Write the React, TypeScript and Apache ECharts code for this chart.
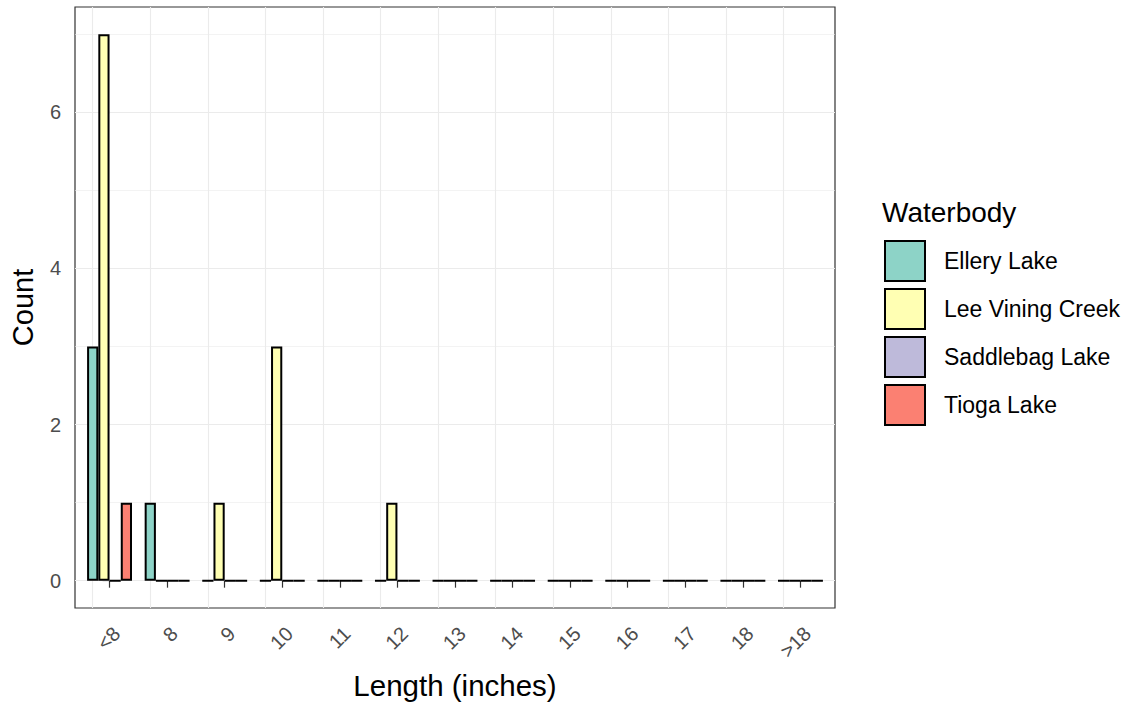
import React, { useEffect, useRef } from "react";
import * as echarts from "echarts";

const categories = ["<8", "8", "9", "10", "11", "12", "13", "14", "15", "16", "17", "18", ">18"];
const seriesNames = ["Ellery Lake", "Lee Vining Creek", "Saddlebag Lake", "Tioga Lake"];
const elleryLake = [3, 1, 0, 0, 0, 0, 0, 0, 0, 0, 0, 0, 0];
const leeViningCreek = [7, 0, 1, 3, 0, 1, 0, 0, 0, 0, 0, 0, 0];
const saddlebagLake = [0, 0, 0, 0, 0, 0, 0, 0, 0, 0, 0, 0, 0];
const tiogaLake = [1, 0, 0, 0, 0, 0, 0, 0, 0, 0, 0, 0, 0];
const colors = ["#8DD3C7", "#FFFFB3", "#BEBADA", "#FB8072"];
const yTicks = [0, 2, 4, 6];
const yMinor = [1, 3, 5, 7];

const FONT = "'Liberation Sans', Arial, sans-serif";

export default function App() {
  const ref = useRef<HTMLDivElement>(null);
  useEffect(() => {
    if (!ref.current) return;
    const chart = echarts.init(ref.current, undefined, { renderer: "svg" });
    const xIdx = categories.map((_, i) => i);
    const allValues = [elleryLake, leeViningCreek, saddlebagLake, tiogaLake];
    const gridMarks = [
      ...yTicks.map((v) => ({ yAxis: v, lineStyle: { width: 1.1 } })),
      ...yMinor.map((v) => ({ yAxis: v, lineStyle: { width: 0.6 } })),
      ...xIdx.map((v) => ({ xAxis: v, lineStyle: { width: 1.1 } })),
    ];
    const series: any[] = allValues.map((vals, si) => ({
      type: "bar",
      name: seriesNames[si],
      data: vals.map((v, i) => [i, v]),
      barGap: "0%",
      barCategoryGap: "22%",
      itemStyle: { color: colors[si], borderColor: "#000", borderWidth: 2 },
      z: 3,
    }));
    series[0].markLine = {
      silent: true,
      symbol: "none",
      z: 1,
      label: { show: false },
      lineStyle: { color: "#EBEBEB", type: "solid" },
      emphasis: { disabled: true },
      data: gridMarks,
    };
    chart.setOption({
      animation: false,
      textStyle: { fontFamily: FONT },
      title: {
        text: "Waterbody",
        left: 882,
        top: 198,
        padding: 0,
        textStyle: { fontSize: 28, fontWeight: "normal", color: "#000", fontFamily: FONT },
      },
      legend: {
        orient: "vertical",
        left: 884,
        top: 240,
        padding: 0,
        itemWidth: 40,
        itemHeight: 40,
        itemGap: 6,
        icon: "rect",
        selectedMode: false,
        textStyle: { fontSize: 23, color: "#000", fontFamily: FONT, padding: [0, 0, 0, 14] },
        data: seriesNames,
      },
      grid: {
        left: 74,
        right: 295,
        top: 7,
        bottom: 95,
        show: true,
        borderColor: "#333333",
        borderWidth: 1.2,
        backgroundColor: "#fff",
      },
      xAxis: {
        type: "value",
        min: -0.6,
        max: 12.6,
        name: "Length (inches)",
        nameLocation: "middle",
        nameGap: 62,
        nameTextStyle: { fontSize: 29.5, color: "#000", fontFamily: FONT },
        axisLine: { show: false },
        splitLine: { show: false },
        axisTick: { show: true, customValues: xIdx, length: 7, lineStyle: { color: "#333", width: 1.2 } },
        axisLabel: {
          customValues: xIdx,
          formatter: (v: number) => categories[Math.round(v)] ?? "",
          rotate: 45,
          align: "right",
          verticalAlign: "top",
          margin: 15,
          fontSize: 20,
          color: "#4D4D4D",
          fontFamily: FONT,
        },
      },
      yAxis: {
        type: "value",
        min: -0.35,
        max: 7.35,
        name: "Count",
        nameLocation: "middle",
        nameGap: 38,
        nameTextStyle: { fontSize: 29, color: "#000", fontFamily: FONT },
        axisLine: { show: false },
        splitLine: { show: false },
        axisTick: { show: true, customValues: yTicks, length: 7, lineStyle: { color: "#333", width: 1.2 } },
        axisLabel: {
          customValues: yTicks,
          margin: 14,
          fontSize: 20,
          color: "#4D4D4D",
          fontFamily: FONT,
        },
      },
      series,
    });
    return () => chart.dispose();
  }, []);
  return <div ref={ref} style={{ width: 1130, height: 705, position: "absolute", left: 0, top: 0 }} />;
}
